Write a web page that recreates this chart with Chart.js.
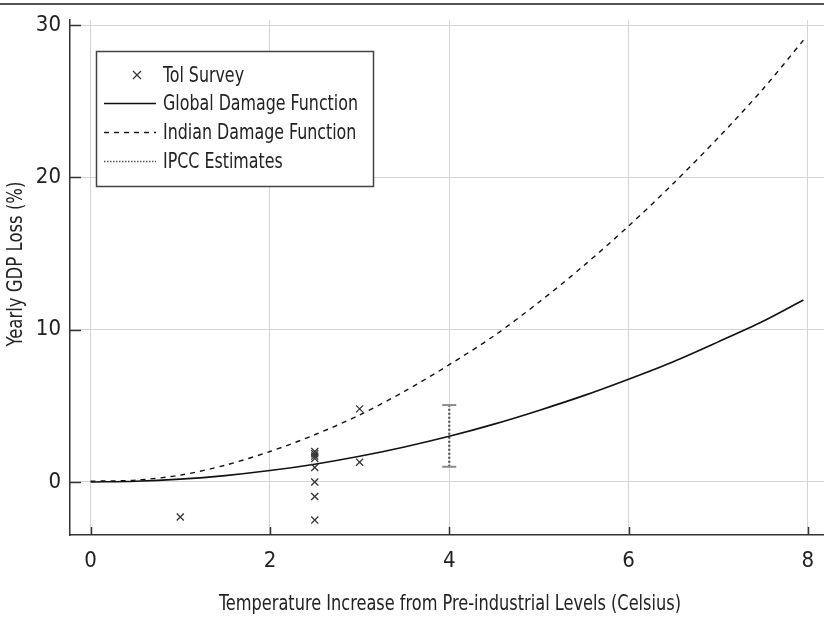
<!DOCTYPE html>
<html>
<head>
<meta charset="utf-8">
<script src="https://cdn.jsdelivr.net/npm/chart.js@4.4.1/dist/chart.umd.min.js"></script>
<style>
  html, body { margin: 0; padding: 0; background: #fff; }
  canvas { display: block; }
</style>
</head>
<body>
<canvas id="c" width="824" height="618"></canvas>
<script>
// ---- data ----
const xTicks = [0, 2, 4, 6, 8];
const yTicks = [0, 10, 20, 30];

const tolX = [1.0, 2.5, 2.5, 2.5, 2.5, 2.5, 2.5, 2.5, 2.5, 3.0, 3.0];
const tolY = [-2.3, -2.5, -0.95, 0.0, 0.95, 1.55, 1.7, 1.85, 2.0, 4.8, 1.3];

const curveX = [0, 0.5, 1, 1.5, 2, 2.5, 3, 3.5, 4, 4.5, 5, 5.5, 6, 6.5, 7, 7.5, 7.95];
const globalDamage = [0.0, 0.05, 0.19, 0.42, 0.75, 1.17, 1.69, 2.3, 3.0, 3.8, 4.7, 5.67, 6.75, 7.9, 9.2, 10.55, 11.95];
const indianDamage = [0.05, 0.12, 0.45, 1.1, 2.0, 3.1, 4.4, 5.95, 7.7, 9.6, 11.8, 14.2, 16.8, 19.6, 22.6, 25.8, 29.0];

const ipccX = [4, 4];
const ipccY = [1.0, 5.05];

const labels = ['Tol Survey', 'Global Damage Function', 'Indian Damage Function', 'IPCC Estimates'];

const FONT = '"Liberation Sans Narrow", "DejaVu Sans Condensed", "Roboto Condensed", "Liberation Sans", sans-serif';
const xTitle = 'Temperature Increase from Pre-industrial Levels (Celsius)';
const yTitle = 'Yearly GDP Loss (%)';

const zip = (xs, ys) => xs.map((x, i) => ({ x: x, y: ys[i] }));

function condensedText(c, text, x, y, width) {
  const m = c.measureText(text).width;
  const k = Math.min(1, width / m);
  c.save();
  c.translate(x, y);
  c.scale(k, 1);
  c.fillText(text, 0, 0);
  c.restore();
}

const areaPlugin = {
  id: 'area',
  afterLayout(chart) {
    // keep the plot frame running to the right edge, as in the reference
    const a = chart.chartArea;
    const xs = chart.scales.x;
    const target = chart.width;
    if (a.right !== target) {
      a.right = target;
      a.width = a.right - a.left;
      xs.right = target;
      xs.width = xs.right - xs.left;
      xs.configure();
    }
  }
};

const decorPlugin = {
  id: 'decor',
  beforeDraw(chart) {
    const c = chart.ctx;
    c.save();
    c.fillStyle = '#fff';
    c.fillRect(0, 0, chart.width, chart.height);
    c.strokeStyle = '#555';
    c.lineWidth = 2;
    c.beginPath(); c.moveTo(0, 4); c.lineTo(chart.width, 4); c.stroke();
    c.restore();
  },
  afterDraw(chart) {
    const c = chart.ctx;
    const xs = chart.scales.x, ys = chart.scales.y;
    const a = chart.chartArea;
    c.save();
    c.strokeStyle = '#333';
    c.lineWidth = 1.5;
    ys.ticks.forEach(t => {
      const py = Math.round(ys.getPixelForValue(t.value)) + 0.5;
      c.beginPath(); c.moveTo(a.left, py); c.lineTo(a.left + 11, py); c.stroke();
    });
    xs.ticks.forEach(t => {
      const px = Math.round(xs.getPixelForValue(t.value)) + 0.5;
      c.beginPath(); c.moveTo(px, a.bottom); c.lineTo(px, a.bottom - 8); c.stroke();
    });
    c.fillStyle = '#222';
    c.font = '21px ' + FONT;
    c.textAlign = 'center';
    c.textBaseline = 'middle';
    condensedText(c, xTitle, 450, 605, 462);
    c.save();
    c.translate(17, 264);
    c.rotate(-Math.PI / 2);
    condensedText(c, yTitle, 0, 0, 165);
    c.restore();

    const bx = 96, by = 51, bw = 277, bh = 135;
    c.fillStyle = '#fff';
    c.fillRect(bx, by, bw, bh);
    c.strokeStyle = '#444';
    c.lineWidth = 1.5;
    c.strokeRect(bx + 0.5, by + 0.5, bw, bh);
    const rows = [75, 103, 132, 161];
    const ds = chart.data.datasets;
    c.font = '22px ' + FONT;
    c.textAlign = 'left';
    c.textBaseline = 'middle';
    const k = 195 / c.measureText(labels[1]).width;
    ds.forEach((d, i) => {
      const ry = rows[i];
      c.save();
      if (i === 0) {
        c.strokeStyle = d.borderColor;
        c.lineWidth = 1.2;
        const s = 4;
        c.beginPath();
        c.moveTo(137 - s, ry - s); c.lineTo(137 + s, ry + s);
        c.moveTo(137 + s, ry - s); c.lineTo(137 - s, ry + s);
        c.stroke();
      } else {
        c.strokeStyle = d.borderColor;
        c.lineWidth = i === 3 ? 1.5 : d.borderWidth;
        c.setLineDash(i === 3 ? [1.5, 1.5] : (d.borderDash || []));
        c.beginPath(); c.moveTo(104, ry + 0.5); c.lineTo(156, ry + 0.5); c.stroke();
      }
      c.restore();
      c.fillStyle = '#222';
      c.save();
      c.translate(163, ry + 1);
      c.scale(Math.min(1, k), 1);
      c.fillText(d.label, 0, 0);
      c.restore();
    });
    c.restore();
  }
};

new Chart(document.getElementById('c'), {
  type: 'scatter',
  data: {
    datasets: [
      {
        label: labels[0],
        data: zip(tolX, tolY),
        showLine: false,
        pointStyle: 'crossRot',
        pointRadius: 5,
        pointBorderWidth: 1.3,
        borderColor: '#333',
        pointBorderColor: '#333',
        order: 0
      },
      {
        label: labels[1],
        data: zip(curveX, globalDamage),
        showLine: true,
        pointRadius: 0,
        borderColor: '#111',
        borderWidth: 1.6,
        tension: 0.3,
        order: 1
      },
      {
        label: labels[2],
        data: zip(curveX, indianDamage),
        showLine: true,
        pointRadius: 0,
        borderColor: '#111',
        borderWidth: 1.4,
        borderDash: [5, 5],
        tension: 0.3,
        order: 2
      },
      {
        label: labels[3],
        data: zip(ipccX, ipccY),
        showLine: true,
        borderColor: '#555',
        borderWidth: 2.2,
        borderDash: [2, 2],
        pointStyle: 'line',
        pointRadius: 7,
        pointBorderWidth: 2,
        pointBorderColor: '#8a8a8a',
        order: 3
      }
    ]
  },
  options: {
    responsive: false,
    animation: false,
    devicePixelRatio: 1,
    layout: { padding: { top: 20, right: 0, left: 0, bottom: 0 } },
    plugins: { legend: { display: false }, tooltip: { enabled: false } },
    scales: {
      x: {
        type: 'linear',
        min: -0.23,
        max: 8.18,
        afterFit(s) { s.height = 83; s.paddingRight = 0; s.paddingLeft = 0; },
        afterBuildTicks(s) { s.ticks = xTicks.map(v => ({ value: v })); },
        grid: { color: '#d4d4d4', lineWidth: 1, drawTicks: false },
        border: { display: true, color: '#333', width: 1.5 },
        ticks: { color: '#222', font: { family: FONT, size: 22 }, padding: 13, maxRotation: 0 }
      },
      y: {
        type: 'linear',
        min: -3.48,
        max: 30.33,
        afterFit(s) { s.width = 70; s.paddingTop = 0; s.paddingBottom = 0; },
        afterBuildTicks(s) { s.ticks = yTicks.map(v => ({ value: v })); },
        grid: { color: '#d4d4d4', lineWidth: 1, drawTicks: false },
        border: { display: true, color: '#333', width: 1.5 },
        ticks: { color: '#222', font: { family: FONT, size: 22 }, padding: 9 }
      }
    }
  },
  plugins: [areaPlugin, decorPlugin]
});
</script>
</body>
</html>
